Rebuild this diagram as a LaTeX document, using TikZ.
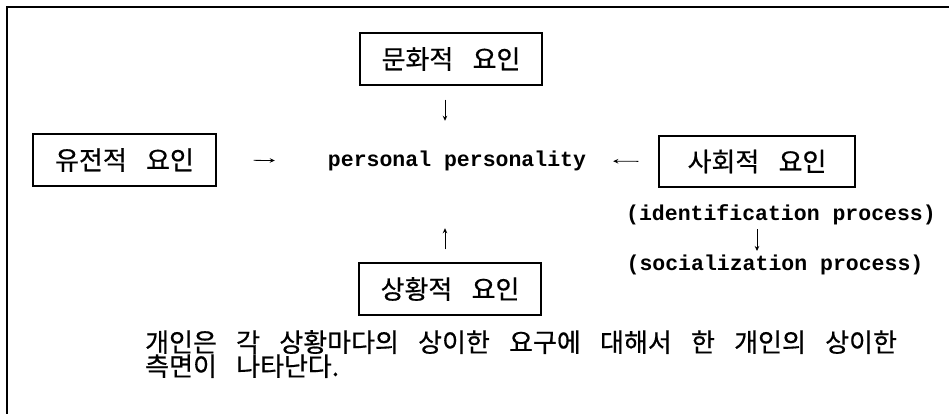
\documentclass[tikz,border=0pt]{standalone}
\usepackage{fontspec}
\usetikzlibrary{arrows.meta}
\newfontfamily\kr[WordSpace=3.3,FakeBold=0.6]{Noto Sans CJK KR}
\newfontfamily\mono[BoldFont={Liberation Mono Bold}]{Liberation Mono}
\begin{document}
\begin{tikzpicture}[x=1pt,y=-1pt,
  factor/.style={draw,line width=1.1pt,minimum width=182pt,minimum height=52pt,inner sep=0pt,font=\kr\fontsize{26}{28}\selectfont},
  lbl/.style={inner sep=0pt,font=\mono\bfseries\fontsize{21.5}{24}\selectfont},
  arr/.style={line width=0.8pt,-{Stealth[length=5pt,width=4.5pt]}}]
\useasboundingbox (0,0) rectangle (949,414);
\draw[line width=1.2pt] (7,414) -- (7,7) -- (949,7);
\node[factor] (cult) at (451,59) {문화적 요인};
\node[factor,minimum width=183pt] (gen) at (124.5,160) {유전적 요인};
\node[factor,minimum width=196pt,minimum height=51pt] (soc) at (757,161.5) {사회적 요인};
\node[factor] (sit) at (450,289) {상황적 요인};
\node[lbl] (pp) at (457,161) {personal personality};
\node[lbl] (ident) at (781,215) {(identification process)};
\node[lbl] (sociali) at (775,265) {(socialization process)};
\node[anchor=north west,inner sep=0pt,align=left,font=\kr\fontsize{26}{24}\selectfont] (note) at (145,330)
  {개인은 각 상황마다의 상이한 요구에 대해서 한 개인의 상이한\\측면이 나타난다.};
\draw[arr,shorten <=14pt,shorten >=30pt] ([xshift=-6pt]cult.south) -- ([xshift=-6pt]cult.south |- pp.north);
\draw[arr,shorten <=37pt,shorten >=53pt] (gen.east) -- (pp.west);
\draw[arr,shorten <=20pt,shorten >=27pt] (soc.west) -- (pp.east);
\draw[arr,shorten <=13pt,shorten >=57pt] ([xshift=-5pt]sit.north) -- ([xshift=-5pt]sit.north |- pp.south);
\draw[arr,shorten <=14pt,shorten >=14pt] ([xshift=-24pt]ident.center) -- ([xshift=-24pt]ident.center |- sociali.center);
\end{tikzpicture}
\end{document}
